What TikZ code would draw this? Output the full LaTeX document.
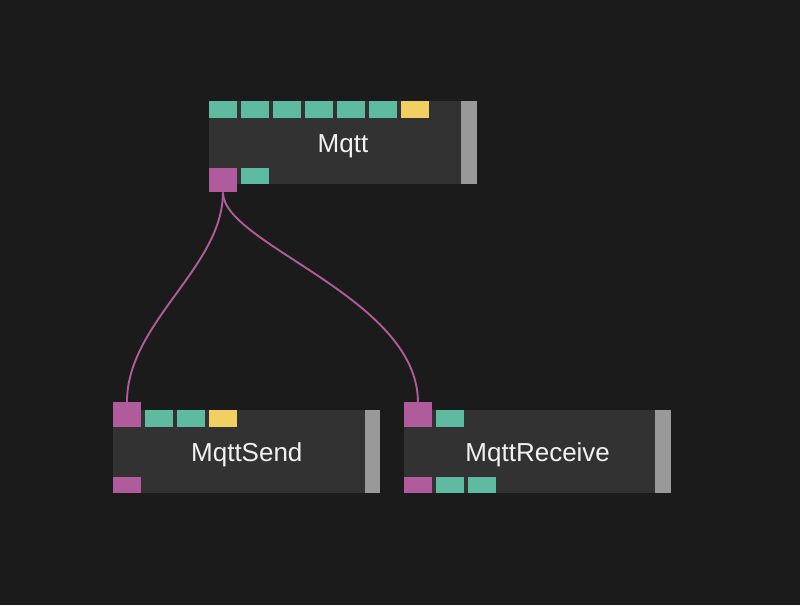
\documentclass[tikz,border=0pt]{standalone}
\usepackage{fontspec}
\setmainfont{Liberation Sans}
\definecolor{bg}{RGB}{27,27,27}
\definecolor{bodyc}{RGB}{50,50,50}
\definecolor{teal}{RGB}{94,186,160}
\definecolor{gold}{RGB}{242,207,99}
\definecolor{mag}{RGB}{176,92,156}
\definecolor{barc}{RGB}{153,153,153}
\definecolor{txt}{RGB}{242,242,242}
\tikzset{
  box/.style={rectangle, inner sep=0pt, outer sep=0pt, anchor=north west},
  body/.style={box, fill=bodyc, minimum height=83pt},
  bar/.style={box, fill=barc, minimum width=15.7pt, minimum height=83pt},
  pt/.style={box, minimum width=27.3pt, minimum height=16.7pt},
  tport/.style={pt, fill=teal},
  yport/.style={pt, fill=gold},
  mport/.style={pt, fill=mag},
  cport/.style={box, fill=mag, minimum width=27.3pt, minimum height=24.7pt},
  label/.style={anchor=base, text=txt, font=\fontsize{26}{30}\selectfont, inner sep=0pt},
  wire/.style={draw=mag, line width=1.9pt}
}
\begin{document}
\begin{tikzpicture}[x=1pt,y=-1pt]
\fill[bg] (0,0) rectangle (800,605);
\useasboundingbox (0,0) rectangle (800,605);
% Mqtt
\node[body, minimum width=267.4pt] (mqtt) at (209.3,101) {};
\node[bar] (mqttbar) at (461,101) {};
\node[tport] (m1) at (209.3,101) {};
\node[tport] (m2) at (241.3,101) {};
\node[tport] (m3) at (273.3,101) {};
\node[tport] (m4) at (305.3,101) {};
\node[tport] (m5) at (337.3,101) {};
\node[tport] (m6) at (369.3,101) {};
\node[yport] (m7) at (401.3,101) {};
\node[cport] (mout) at (209.3,167.7) {};
\node[tport] (mb2) at (241.3,167.7) {};
\node[label] (mqttlbl) at (343,152.3) {Mqtt};
% MqttSend
\node[body, minimum width=267pt] (send) at (113.3,410.3) {};
\node[bar] (sendbar) at (364.6,410.3) {};
\node[cport] (sin) at (113.3,402.3) {};
\node[tport] (s2) at (145.3,410.3) {};
\node[tport] (s3) at (177.3,410.3) {};
\node[yport] (s4) at (209.3,410.3) {};
\node[mport, minimum height=16pt] (sb1) at (113.3,477.3) {};
\node[label] (sendlbl) at (246.8,461.7) {MqttSend};
% MqttReceive
\node[body, minimum width=266.7pt] (recv) at (404.3,410.3) {};
\node[bar] (recvbar) at (655.3,410.3) {};
\node[cport] (rin) at (404.3,402.3) {};
\node[tport] (r2) at (436.3,410.3) {};
\node[mport, minimum height=16pt] (rb1) at (404.3,477.3) {};
\node[tport, minimum height=16pt] (rb2) at (436.3,477.3) {};
\node[tport, minimum height=16pt] (rb3) at (468.3,477.3) {};
\node[label] (recvlbl) at (537.7,461.7) {MqttReceive};
% wires
\draw[wire] (mout.south) .. controls +(0,75) and +(0,-80) .. (sin.north);
\draw[wire] (mout.south) .. controls +(0,52) and +(0,-105) .. (rin.north);
\end{tikzpicture}
\end{document}
